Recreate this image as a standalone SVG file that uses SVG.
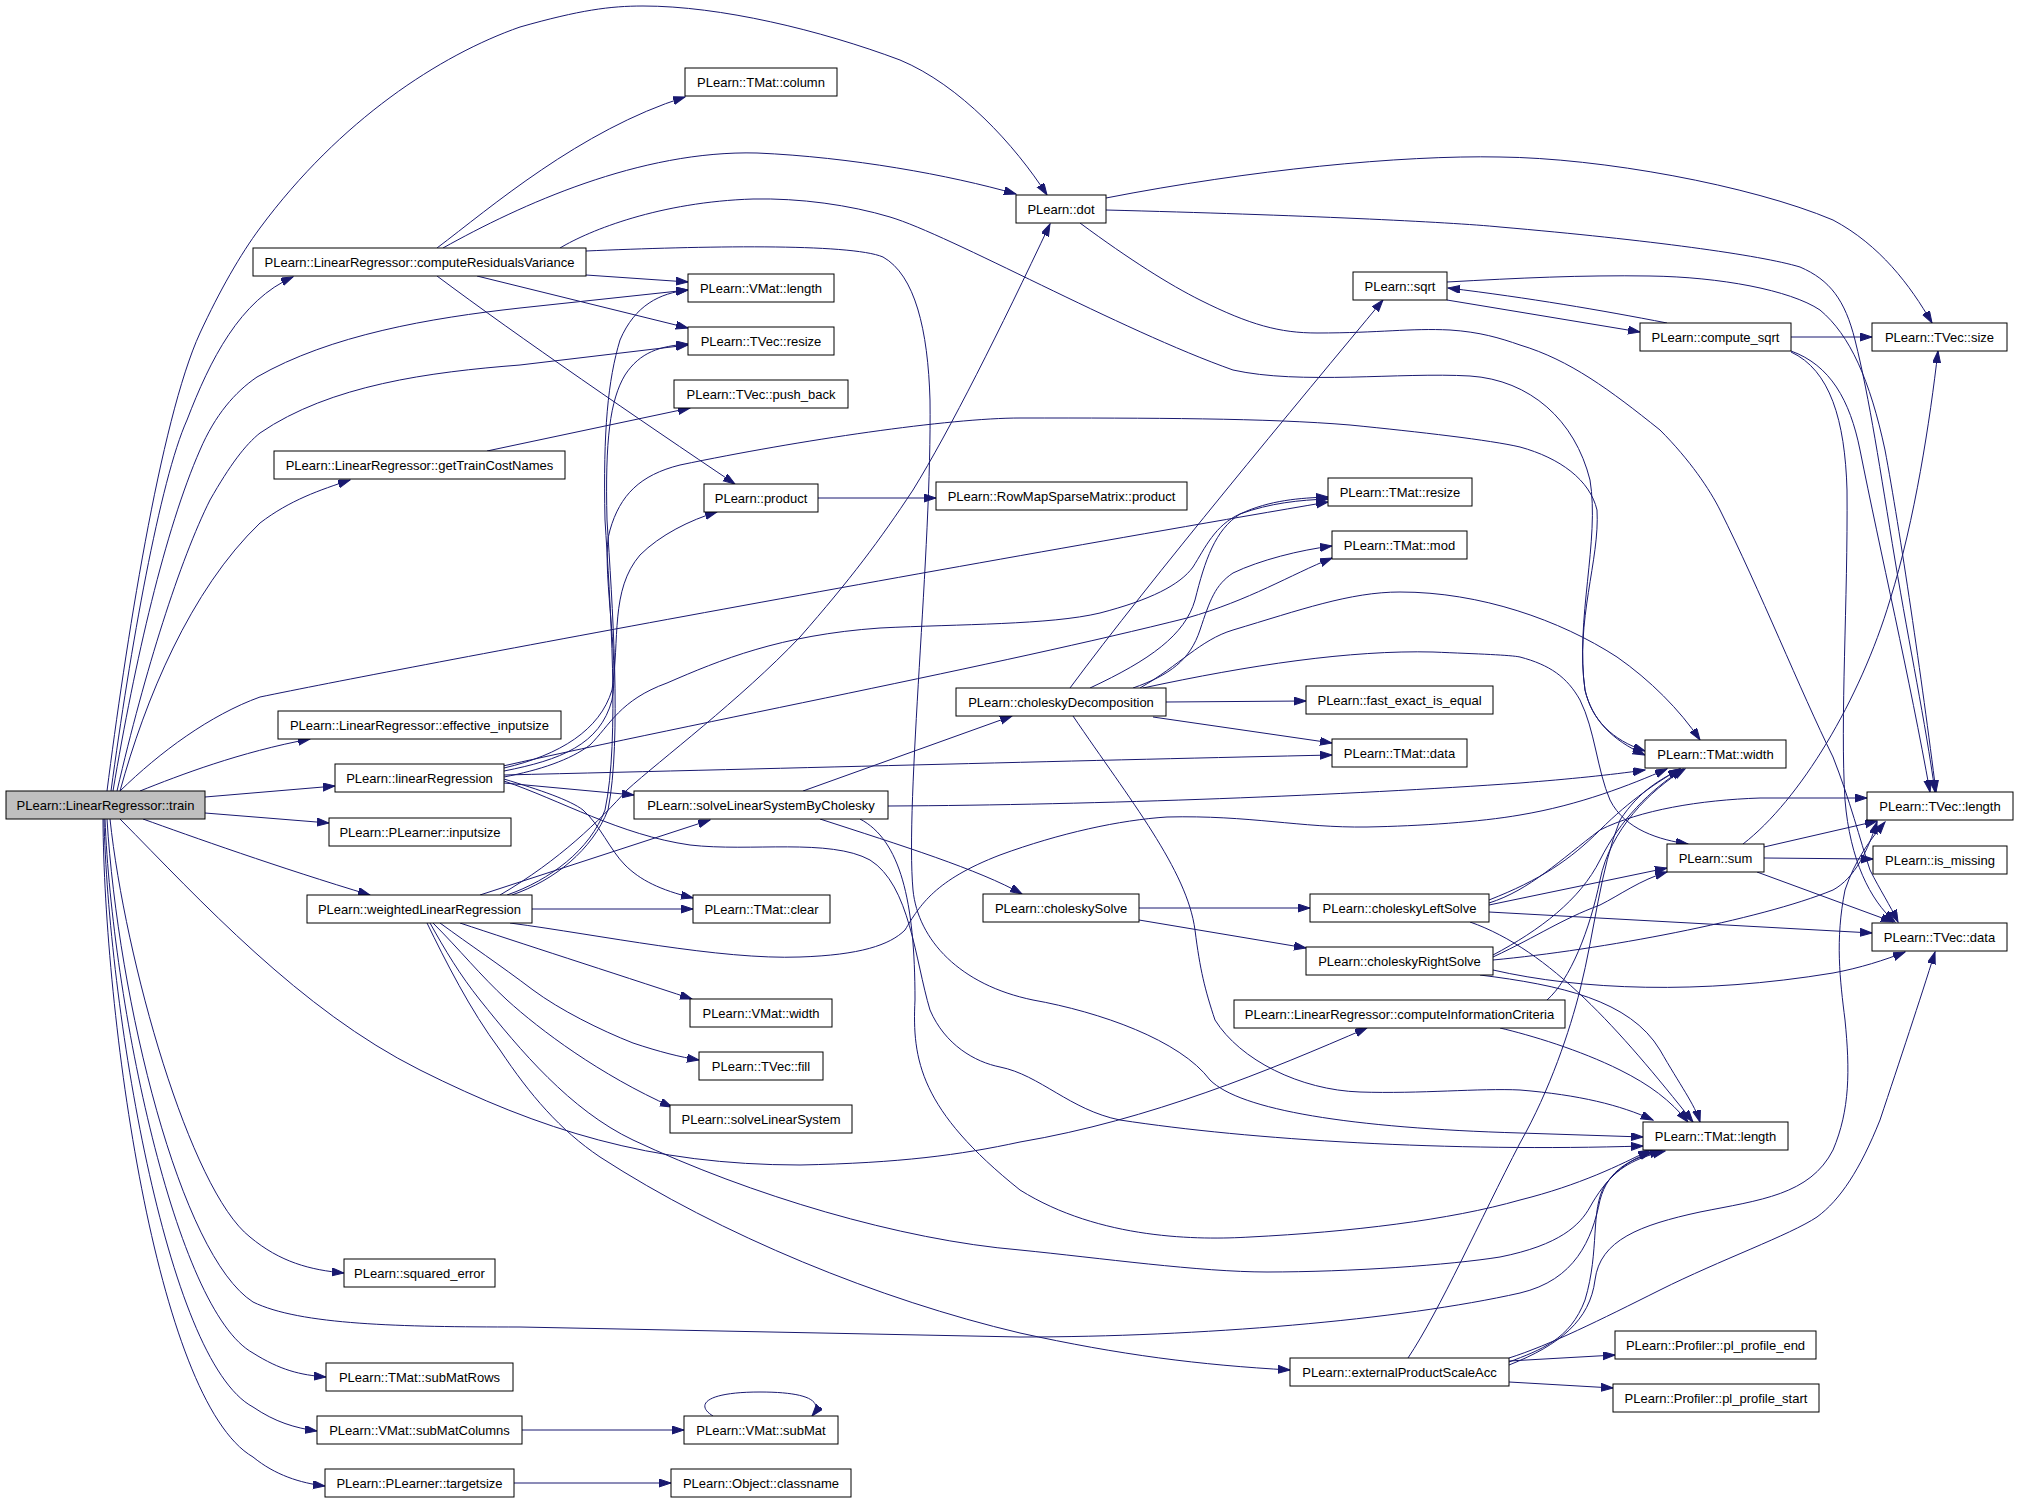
<svg xmlns="http://www.w3.org/2000/svg" width="2019" height="1504" viewBox="0 0 2019 1504">
<defs>
<marker id="a" markerWidth="13" markerHeight="9" refX="12" refY="4" orient="auto" markerUnits="userSpaceOnUse">
<path d="M0,0 L12,4 L0,8 z" fill="#191970" stroke="#191970" stroke-width="1"/>
</marker>
<style>
.n rect{fill:#ffffff;stroke:#000000;stroke-width:1}
.n.cur rect{fill:#bfbfbf}
.n text{font-family:"Liberation Sans",Arial,sans-serif;font-size:13px;fill:#000000;text-anchor:middle}
#edges path{fill:none;stroke:#191970;stroke-width:1;marker-end:url(#a)}
</style>
</defs>
<rect x="0" y="0" width="2019" height="1504" fill="#ffffff"/>
<g id="edges">
<path d="M111,791 C130,650 160,480 187,420 C210,360 240,300 293,277"/>
<path d="M107,791 C125,650 160,420 200,333 C220,290 240,255 260,228 C340,120 440,55 520,27 C580,10 610,6 643,6 C720,6 820,30 900,60 C960,85 1015,145 1047,195"/>
<path d="M113,791 C135,660 165,530 200,450 C215,415 235,392 257,377 C330,335 430,318 520,308 L688,290"/>
<path d="M117,791 C145,670 180,560 210,500 C230,465 245,445 260,433 C330,385 430,372 520,365 L688,345"/>
<path d="M120,791 C145,700 190,590 260,523 C290,500 320,490 350,480"/>
<path d="M120,791 C160,752 210,715 260,697 C400,668 900,575 1328,502"/>
<path d="M140,791 C180,775 240,752 310,739"/>
<path d="M205,797 L335,786"/>
<path d="M205,813 L329,823"/>
<path d="M143,819 C190,836 280,868 370,895"/>
<path d="M120,819 C200,900 300,1010 420,1070 C540,1130 650,1165 800,1165 C900,1163 960,1155 1020,1142 C1150,1120 1270,1070 1367,1028"/>
<path d="M110,819 C125,960 190,1190 250,1237 C280,1262 310,1270 344,1273"/>
<path d="M107,819 C118,1000 180,1255 253,1302 C300,1325 400,1327 520,1327 L1020,1337 C1200,1337 1400,1320 1520,1293 C1575,1280 1592,1240 1600,1200 C1608,1170 1630,1158 1662,1151"/>
<path d="M105,819 C112,1000 175,1310 253,1353 C280,1370 300,1375 326,1377"/>
<path d="M104,819 C108,1000 165,1360 253,1407 C275,1422 295,1428 317,1431"/>
<path d="M103,819 C104,1010 155,1400 253,1457 C275,1475 300,1483 325,1486"/>
<path d="M437,248 C490,208 580,130 685,97"/>
<path d="M443,248 C520,205 640,150 757,153 C850,157 950,175 1016,194"/>
<path d="M586,275 L688,282"/>
<path d="M477,276 L688,328"/>
<path d="M437,276 C520,338 640,420 735,484"/>
<path d="M560,248 C590,230 660,202 753,199 C800,198 850,205 890,217 C950,235 1120,330 1233,370 C1300,385 1400,372 1470,376 C1530,380 1575,420 1590,480 C1600,540 1575,620 1585,690 C1592,720 1612,740 1645,751"/>
<path d="M586,251 C700,246 850,243 883,257 C915,275 928,330 930,400 C932,550 905,800 913,890 C918,940 960,985 1033,1000 C1100,1012 1180,1040 1210,1080 C1240,1110 1350,1128 1520,1133 L1643,1137"/>
<path d="M487,451 L690,408"/>
<path d="M818,498 L936,498"/>
<path d="M503,766 C700,722 1000,665 1187,618 C1250,600 1290,575 1332,558"/>
<path d="M504,775 C800,768 1100,760 1332,755"/>
<path d="M504,777 C540,770 570,760 590,745 C610,725 620,700 667,683 C720,660 780,635 880,628 C960,624 1050,625 1100,613 C1150,600 1180,585 1193,567 C1205,548 1215,525 1240,514 C1270,503 1300,500 1328,499"/>
<path d="M504,783 L634,795"/>
<path d="M504,779 C540,790 570,800 583,810 C600,825 610,850 625,865 C640,880 660,890 693,898"/>
<path d="M504,781 C560,800 620,835 690,845 C750,852 830,838 870,860 C910,885 915,960 930,1010 C945,1045 975,1062 1000,1067 C1040,1075 1070,1110 1120,1120 C1250,1140 1450,1152 1643,1146"/>
<path d="M504,768 C560,755 600,730 612,690 C620,640 610,590 640,555 C660,535 690,520 717,512"/>
<path d="M504,771 C560,760 600,745 612,700 C620,660 600,560 610,530 C620,495 640,475 680,465 C800,440 950,418 1020,418 C1150,418 1267,418 1350,425 C1420,432 1490,440 1520,447 C1560,458 1590,480 1597,510 C1600,560 1575,620 1585,690 C1592,720 1612,740 1645,755"/>
<path d="M507,895 C550,880 590,850 605,810 C620,740 610,600 605,520 C603,430 608,380 620,340 C635,305 660,293 688,290"/>
<path d="M512,895 C555,880 592,850 608,810 C622,740 612,600 607,520 C605,440 610,400 625,375 C640,352 660,346 688,344"/>
<path d="M500,895 C560,860 600,820 627,790 C660,760 740,700 800,637 C850,580 880,540 913,490 C950,430 1000,330 1050,224"/>
<path d="M480,895 L710,820"/>
<path d="M532,909 L693,909"/>
<path d="M510,923 C600,935 720,960 800,957 C860,955 890,945 905,930 C920,905 935,880 1000,855 C1060,833 1120,820 1167,817 C1250,815 1300,828 1367,827 C1420,826 1480,822 1520,815 C1580,805 1630,785 1667,769"/>
<path d="M460,923 C520,943 610,972 692,999"/>
<path d="M440,923 C470,945 500,965 533,990 C560,1010 600,1030 633,1043 C660,1052 680,1057 699,1060"/>
<path d="M433,923 C460,950 480,975 507,1000 C540,1030 600,1075 672,1107"/>
<path d="M430,923 C445,950 460,975 480,1000 C520,1050 570,1110 633,1140 C750,1195 900,1240 1020,1250 C1100,1258 1200,1272 1267,1272 C1350,1272 1450,1265 1500,1257 C1560,1245 1580,1225 1590,1207 C1605,1180 1625,1160 1652,1152"/>
<path d="M427,923 C445,960 470,1010 500,1050 C530,1095 560,1130 600,1157 C720,1235 880,1300 1020,1333 C1120,1355 1200,1365 1290,1370"/>
<path d="M803,791 L1012,716"/>
<path d="M888,806 C1100,805 1350,795 1520,783 C1570,779 1610,775 1645,770"/>
<path d="M820,819 C900,845 980,870 1022,894"/>
<path d="M860,819 C900,840 915,900 915,1000 C912,1060 920,1110 1020,1190 C1100,1240 1200,1240 1250,1237 C1350,1232 1450,1220 1520,1200 C1580,1185 1620,1165 1650,1150"/>
<path d="M1070,688 C1150,580 1300,400 1383,300"/>
<path d="M1090,688 C1150,660 1185,635 1195,600 C1205,560 1215,530 1240,514 C1270,500 1300,498 1328,497"/>
<path d="M1133,688 C1170,675 1190,660 1200,630 C1210,600 1215,585 1233,573 C1260,560 1300,550 1332,546"/>
<path d="M1140,688 C1180,665 1200,640 1233,630 C1300,610 1350,592 1400,592 C1480,592 1560,620 1617,657 C1650,680 1680,710 1700,740"/>
<path d="M1143,688 C1250,665 1350,650 1433,652 C1480,654 1510,655 1520,657 C1550,665 1567,677 1580,700 C1595,730 1597,770 1610,800 C1625,830 1660,840 1688,844"/>
<path d="M1166,702 L1306,701"/>
<path d="M1153,717 L1332,743"/>
<path d="M1073,716 C1130,800 1187,870 1195,930 C1200,970 1205,990 1215,1020 C1240,1060 1300,1090 1360,1092 C1420,1094 1480,1088 1520,1090 C1580,1095 1620,1105 1653,1120"/>
<path d="M1139,908 L1310,908"/>
<path d="M1139,920 L1306,948"/>
<path d="M1489,900 C1540,880 1570,860 1600,830 C1630,800 1660,780 1680,769"/>
<path d="M1489,903 C1530,890 1560,860 1600,830 C1640,810 1700,800 1760,798 L1867,798"/>
<path d="M1489,905 L1667,868"/>
<path d="M1489,912 L1872,933"/>
<path d="M1470,922 C1550,950 1620,1030 1693,1122"/>
<path d="M1493,955 C1540,930 1580,900 1600,860 C1620,820 1650,790 1683,769"/>
<path d="M1493,957 C1540,935 1560,920 1600,905 C1620,895 1640,880 1667,872"/>
<path d="M1493,960 C1600,950 1760,920 1833,890 C1855,878 1868,850 1877,822"/>
<path d="M1493,970 C1580,990 1700,995 1833,973 C1860,968 1885,960 1905,952"/>
<path d="M1480,975 C1560,985 1630,1000 1660,1050 C1680,1085 1695,1105 1700,1122"/>
<path d="M1547,1000 C1570,980 1590,930 1600,880 C1610,830 1650,790 1685,769"/>
<path d="M1500,1028 C1530,1035 1580,1050 1620,1070 C1650,1085 1670,1100 1688,1122"/>
<path d="M1408,1358 C1440,1310 1480,1220 1520,1143 C1550,1090 1570,1030 1580,990 C1595,930 1600,870 1620,820 C1640,790 1660,780 1680,769"/>
<path d="M1509,1362 C1540,1350 1570,1340 1585,1300 C1600,1250 1590,1210 1605,1185 C1620,1165 1640,1157 1665,1151"/>
<path d="M1509,1365 C1560,1345 1590,1320 1595,1280 C1600,1240 1640,1225 1700,1212 C1760,1200 1810,1195 1833,1150 C1850,1110 1850,1070 1845,1020 C1840,980 1835,940 1845,890 C1855,860 1870,840 1885,822"/>
<path d="M1509,1358 C1550,1345 1600,1320 1660,1290 C1720,1260 1790,1235 1817,1217 C1840,1200 1860,1170 1880,1120 C1900,1060 1920,1000 1935,952"/>
<path d="M1509,1361 L1615,1355"/>
<path d="M1509,1382 L1613,1388"/>
<path d="M1106,198 C1250,170 1400,155 1500,157 C1600,158 1750,185 1833,220 C1880,245 1910,285 1932,323"/>
<path d="M1106,210 C1300,215 1450,222 1500,227 C1650,240 1760,255 1800,267 C1830,280 1845,300 1855,340 C1870,400 1880,470 1895,560 C1910,650 1925,720 1935,792"/>
<path d="M1080,223 C1130,260 1170,285 1200,300 C1250,325 1280,333 1317,333 C1380,333 1410,328 1450,330 C1480,332 1500,338 1520,345 C1570,360 1610,390 1660,430 C1690,460 1710,490 1720,510 C1760,590 1800,690 1833,757 C1850,800 1860,840 1870,870 C1880,890 1890,905 1898,922"/>
<path d="M1447,282 C1520,278 1580,275 1650,276 C1720,277 1790,290 1820,310 C1850,335 1870,380 1885,450 C1900,530 1922,680 1936,792"/>
<path d="M1667,323 C1600,310 1530,298 1448,288"/>
<path d="M1447,300 L1640,332"/>
<path d="M1791,337 L1872,337"/>
<path d="M1791,351 C1830,365 1850,400 1860,450 C1880,550 1910,680 1930,792"/>
<path d="M1791,352 C1830,370 1845,420 1847,490 C1848,600 1840,720 1845,800 C1850,860 1870,900 1895,922"/>
<path d="M1743,844 C1800,800 1860,700 1890,600 C1915,520 1930,420 1938,351"/>
<path d="M1764,847 L1877,821"/>
<path d="M1764,858 L1873,859"/>
<path d="M1757,872 L1893,922"/>
<path d="M522,1430 L684,1430"/>
<path d="M713,1416 C695,1405 705,1392 760,1392 C805,1392 825,1400 812,1416"/>
<path d="M514,1483 L671,1483"/>
</g>
<g id="n_train" class="n cur"><rect x="6" y="791" width="199" height="28"/><text x="105.5" y="810">PLearn::LinearRegressor::train</text></g>
<g id="n_crv" class="n"><rect x="253" y="248" width="333" height="28"/><text x="419.5" y="267">PLearn::LinearRegressor::computeResidualsVariance</text></g>
<g id="n_tmat_column" class="n"><rect x="685" y="68" width="152" height="28"/><text x="761" y="87">PLearn::TMat::column</text></g>
<g id="n_dot" class="n"><rect x="1016" y="195" width="90" height="28"/><text x="1061" y="214">PLearn::dot</text></g>
<g id="n_vmat_length" class="n"><rect x="688" y="274" width="146" height="28"/><text x="761" y="293">PLearn::VMat::length</text></g>
<g id="n_tvec_resize" class="n"><rect x="688" y="327" width="146" height="28"/><text x="761" y="346">PLearn::TVec::resize</text></g>
<g id="n_tvec_push_back" class="n"><rect x="674" y="380" width="174" height="28"/><text x="761" y="399">PLearn::TVec::push_back</text></g>
<g id="n_gtcn" class="n"><rect x="274" y="451" width="291" height="28"/><text x="419.5" y="470">PLearn::LinearRegressor::getTrainCostNames</text></g>
<g id="n_product" class="n"><rect x="704" y="484" width="114" height="28"/><text x="761" y="503">PLearn::product</text></g>
<g id="n_rmsm_product" class="n"><rect x="936" y="482" width="251" height="28"/><text x="1061.5" y="501">PLearn::RowMapSparseMatrix::product</text></g>
<g id="n_sqrt" class="n"><rect x="1353" y="272" width="94" height="28"/><text x="1400" y="291">PLearn::sqrt</text></g>
<g id="n_compute_sqrt" class="n"><rect x="1640" y="323" width="151" height="28"/><text x="1715.5" y="342">PLearn::compute_sqrt</text></g>
<g id="n_tvec_size" class="n"><rect x="1872" y="323" width="135" height="28"/><text x="1939.5" y="342">PLearn::TVec::size</text></g>
<g id="n_tmat_resize" class="n"><rect x="1328" y="478" width="144" height="28"/><text x="1400" y="497">PLearn::TMat::resize</text></g>
<g id="n_tmat_mod" class="n"><rect x="1332" y="531" width="135" height="28"/><text x="1399.5" y="550">PLearn::TMat::mod</text></g>
<g id="n_eff_inputsize" class="n"><rect x="278" y="711" width="283" height="28"/><text x="419.5" y="730">PLearn::LinearRegressor::effective_inputsize</text></g>
<g id="n_chol_dec" class="n"><rect x="956" y="688" width="210" height="28"/><text x="1061" y="707">PLearn::choleskyDecomposition</text></g>
<g id="n_fast_exact" class="n"><rect x="1306" y="686" width="187" height="28"/><text x="1399.5" y="705">PLearn::fast_exact_is_equal</text></g>
<g id="n_tmat_data" class="n"><rect x="1332" y="739" width="135" height="28"/><text x="1399.5" y="758">PLearn::TMat::data</text></g>
<g id="n_tmat_width" class="n"><rect x="1645" y="740" width="141" height="28"/><text x="1715.5" y="759">PLearn::TMat::width</text></g>
<g id="n_linreg" class="n"><rect x="335" y="764" width="169" height="28"/><text x="419.5" y="783">PLearn::linearRegression</text></g>
<g id="n_slsbc" class="n"><rect x="634" y="791" width="254" height="28"/><text x="761" y="810">PLearn::solveLinearSystemByCholesky</text></g>
<g id="n_tvec_length" class="n"><rect x="1867" y="792" width="146" height="28"/><text x="1940" y="811">PLearn::TVec::length</text></g>
<g id="n_inputsize" class="n"><rect x="329" y="818" width="182" height="28"/><text x="420" y="837">PLearn::PLearner::inputsize</text></g>
<g id="n_sum" class="n"><rect x="1667" y="844" width="97" height="28"/><text x="1715.5" y="863">PLearn::sum</text></g>
<g id="n_is_missing" class="n"><rect x="1873" y="846" width="134" height="28"/><text x="1940" y="865">PLearn::is_missing</text></g>
<g id="n_wlinreg" class="n"><rect x="307" y="895" width="225" height="28"/><text x="419.5" y="914">PLearn::weightedLinearRegression</text></g>
<g id="n_tmat_clear" class="n"><rect x="693" y="895" width="137" height="28"/><text x="761.5" y="914">PLearn::TMat::clear</text></g>
<g id="n_chol_solve" class="n"><rect x="983" y="894" width="156" height="28"/><text x="1061" y="913">PLearn::choleskySolve</text></g>
<g id="n_chol_left" class="n"><rect x="1310" y="894" width="179" height="28"/><text x="1399.5" y="913">PLearn::choleskyLeftSolve</text></g>
<g id="n_chol_right" class="n"><rect x="1306" y="947" width="187" height="28"/><text x="1399.5" y="966">PLearn::choleskyRightSolve</text></g>
<g id="n_tvec_data" class="n"><rect x="1872" y="923" width="135" height="28"/><text x="1939.5" y="942">PLearn::TVec::data</text></g>
<g id="n_vmat_width" class="n"><rect x="690" y="999" width="142" height="28"/><text x="761" y="1018">PLearn::VMat::width</text></g>
<g id="n_cic" class="n"><rect x="1234" y="1000" width="331" height="28"/><text x="1399.5" y="1019">PLearn::LinearRegressor::computeInformationCriteria</text></g>
<g id="n_tvec_fill" class="n"><rect x="699" y="1052" width="124" height="28"/><text x="761" y="1071">PLearn::TVec::fill</text></g>
<g id="n_sls" class="n"><rect x="670" y="1105" width="182" height="28"/><text x="761" y="1124">PLearn::solveLinearSystem</text></g>
<g id="n_tmat_length" class="n"><rect x="1643" y="1122" width="145" height="28"/><text x="1715.5" y="1141">PLearn::TMat::length</text></g>
<g id="n_squared_error" class="n"><rect x="344" y="1259" width="151" height="28"/><text x="419.5" y="1278">PLearn::squared_error</text></g>
<g id="n_pl_end" class="n"><rect x="1615" y="1331" width="201" height="28"/><text x="1715.5" y="1350">PLearn::Profiler::pl_profile_end</text></g>
<g id="n_epsa" class="n"><rect x="1290" y="1358" width="219" height="28"/><text x="1399.5" y="1377">PLearn::externalProductScaleAcc</text></g>
<g id="n_submatrows" class="n"><rect x="326" y="1363" width="187" height="28"/><text x="419.5" y="1382">PLearn::TMat::subMatRows</text></g>
<g id="n_pl_start" class="n"><rect x="1613" y="1384" width="206" height="28"/><text x="1716" y="1403">PLearn::Profiler::pl_profile_start</text></g>
<g id="n_submatcols" class="n"><rect x="317" y="1416" width="205" height="28"/><text x="419.5" y="1435">PLearn::VMat::subMatColumns</text></g>
<g id="n_submat" class="n"><rect x="684" y="1416" width="154" height="28"/><text x="761" y="1435">PLearn::VMat::subMat</text></g>
<g id="n_targetsize" class="n"><rect x="325" y="1469" width="189" height="28"/><text x="419.5" y="1488">PLearn::PLearner::targetsize</text></g>
<g id="n_classname" class="n"><rect x="671" y="1469" width="180" height="28"/><text x="761" y="1488">PLearn::Object::classname</text></g>
</svg>
